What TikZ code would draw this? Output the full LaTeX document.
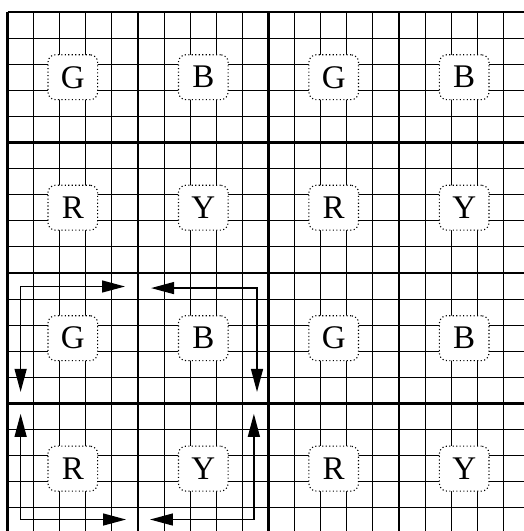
\documentclass[tikz,border=0pt]{standalone}
\usepackage{fontspec}
\setmainfont{Liberation Serif}
\usetikzlibrary{arrows.meta}

\begin{document}
\begin{tikzpicture}[
  scale=0.5,
  cell/.style={draw,dash pattern=on 0.6pt off 1.3pt,line width=0.6pt,fill=white,
               rounded corners=4pt,minimum width=0.95cm,minimum height=0.86cm,
               inner sep=0pt,font=\fontsize{18}{20}\selectfont},
  fine/.style={line width=0.5pt},
  coarse/.style={line width=1.3pt},
  loop/.style={line width=0.8pt,{Triangle[length=12.5pt,width=6.5pt]}-{Triangle[length=12.5pt,width=6.5pt]}}
]

  \useasboundingbox (-0.29,0.11) rectangle (19.77,20.46);

  %% ===== grid =====
  \draw[fine] (0,0) grid (20,20);
  \draw[coarse] (0,0) grid[step=5] (20,20);

  %% ===== colour cells =====
  \foreach \row/\labels in {1/{G,B,G,B},2/{R,Y,R,Y},3/{G,B,G,B},4/{R,Y,R,Y}} {
    \foreach \lbl [count=\col] in \labels {
      \node[cell] (c\row\col) at (5*\col-2.5,22.5-5*\row) {\lbl};
    }
  }

  %% ===== loop round the lower left block =====
  % top left
  \coordinate (tlA) at (0.5,5.44);
  \coordinate (tlC) at (0.5,9.48);
  \coordinate (tlB) at (4.5,9.48);
  % top right
  \coordinate (trA) at (5.5,9.42);
  \coordinate (trC) at (9.56,9.42);
  \coordinate (trB) at (9.56,5.44);
  % bottom right
  \coordinate (brA) at (9.44,4.6);
  \coordinate (brC) at (9.44,0.55);
  \coordinate (brB) at (5.46,0.55);
  % bottom left
  \coordinate (blA) at (0.5,4.6);
  \coordinate (blC) at (0.5,0.55);
  \coordinate (blB) at (4.54,0.55);

  \draw[loop] (tlA) -- (tlC) -- (tlB);
  \draw[loop] (trA) -- (trC) -- (trB);
  \draw[loop] (brA) -- (brC) -- (brB);
  \draw[loop] (blA) -- (blC) -- (blB);

\end{tikzpicture}
\end{document}
